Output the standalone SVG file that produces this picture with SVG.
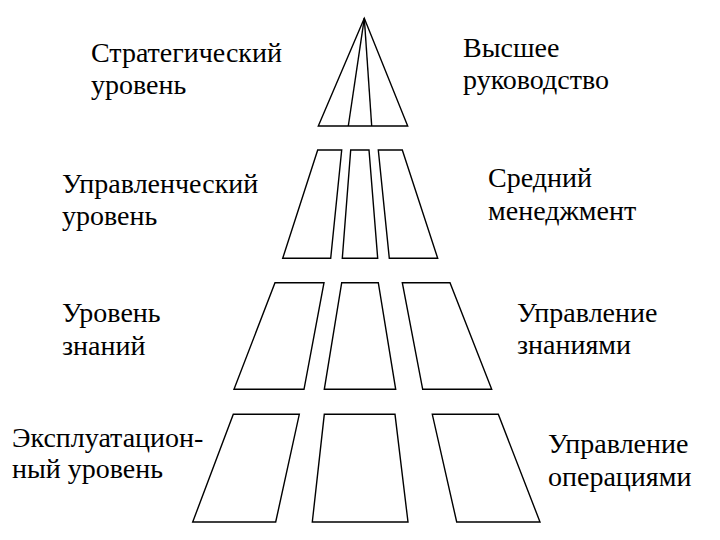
<svg xmlns="http://www.w3.org/2000/svg" width="720" height="540" viewBox="0 0 720 540">
<style>
.s{fill:#fff;stroke:#000;stroke-width:1.4;stroke-linejoin:miter}
.l{fill:none;stroke:#000;stroke-width:1.4}
.t{font-family:'Liberation Serif','Times New Roman',serif;font-size:28px;fill:#000}
</style>
<rect width="720" height="540" fill="#fff"/>
<g id="level1">
<polygon class="s" points="364.3,18.3 318.3,126 407.7,126"/>
<polyline class="l" points="364.3,18.3 348.3,126"/>
<polyline class="l" points="364.3,18.3 371.7,126"/>
</g>
<g id="level2">
<polygon class="s" points="317.7,150 341.7,150 330.7,258.3 282.7,258.3"/>
<polygon class="s" points="350.7,150 369,150 377.7,258.3 342.3,258.3"/>
<polygon class="s" points="378.3,150 402.3,150 437.7,258.3 389.3,258.3"/>
</g>
<g id="level3">
<polygon class="s" points="275,282.7 324,282.7 304,389.3 234,389.3"/>
<polygon class="s" points="341.7,282.7 378.3,282.7 395.7,389.3 324.3,389.3"/>
<polygon class="s" points="402.3,282.7 450,282.7 491.7,389.3 422.7,389.3"/>
</g>
<g id="level4">
<polygon class="s" points="233.3,414.3 299.3,414.3 275.7,522 192.7,522"/>
<polygon class="s" points="324.3,414.3 395,414.3 408,522 312.3,522"/>
<polygon class="s" points="432.3,414.3 498.3,414.3 540,522 456.7,522"/>
</g>
<g id="connectors"></g>
<g id="label-strategic"><text class="t" font-family="Liberation Serif" x="91" y="62">Стратегический</text><text class="t" font-family="Liberation Serif" x="91" y="94">уровень</text></g>
<g id="label-top"><text class="t" font-family="Liberation Serif" x="463" y="57">Высшее</text><text class="t" font-family="Liberation Serif" x="463" y="89">руководство</text></g>
<g id="label-managerial"><text class="t" font-family="Liberation Serif" x="62" y="193">Управленческий</text><text class="t" font-family="Liberation Serif" x="62" y="225">уровень</text></g>
<g id="label-middle"><text class="t" font-family="Liberation Serif" x="488" y="187">Средний</text><text class="t" font-family="Liberation Serif" x="488" y="220">менеджмент</text></g>
<g id="label-knowledge"><text class="t" font-family="Liberation Serif" x="62" y="322">Уровень</text><text class="t" font-family="Liberation Serif" x="62" y="355">знаний</text></g>
<g id="label-km"><text class="t" font-family="Liberation Serif" x="517" y="322">Управление</text><text class="t" font-family="Liberation Serif" x="517" y="354">знаниями</text></g>
<g id="label-operational"><text class="t" font-family="Liberation Serif" x="12" y="447">Эксплуатацион-</text><text class="t" font-family="Liberation Serif" x="12" y="478">ный уровень</text></g>
<g id="label-ops"><text class="t" font-family="Liberation Serif" x="548" y="453">Управление</text><text class="t" font-family="Liberation Serif" x="548" y="486">операциями</text></g>
</svg>
